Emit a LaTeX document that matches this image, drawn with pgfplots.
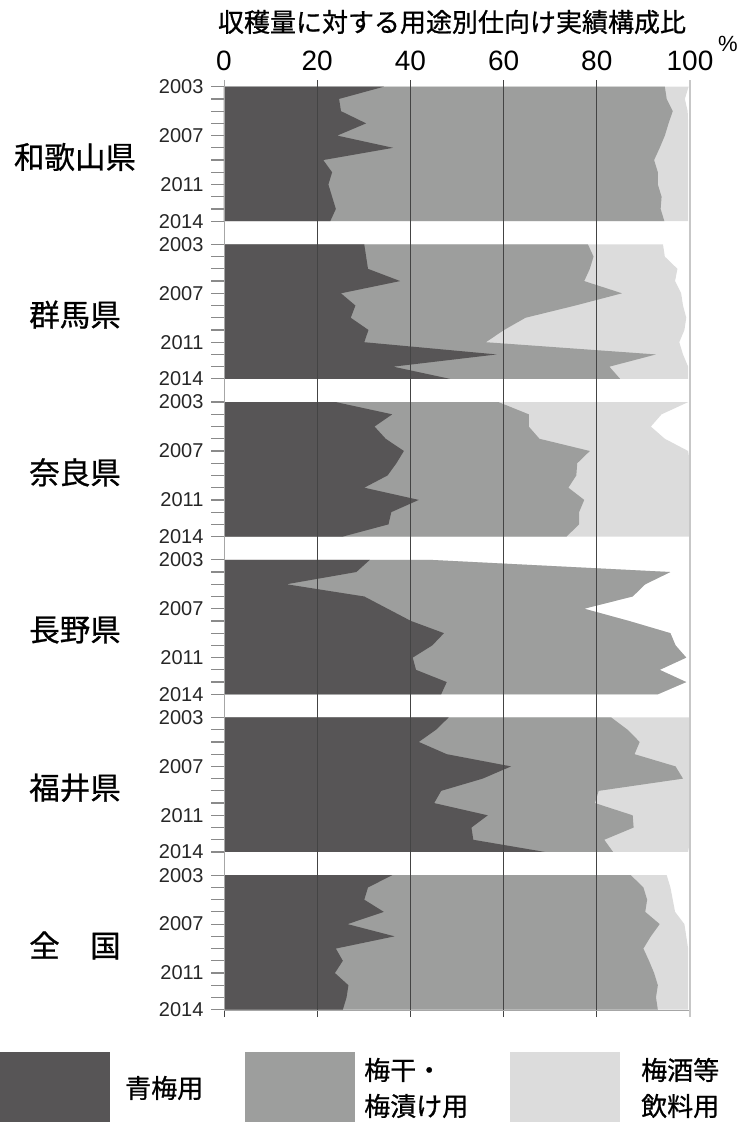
\documentclass[border=0pt]{standalone}
\usepackage{fontspec}
\setmainfont{Liberation Sans}
\newfontfamily\jp[FakeBold=0.8]{Noto Sans CJK JP}
\usepackage{pgfplots}
\usepackage{pgfplotstable}
\pgfplotsset{compat=1.18}
\definecolor{cdark}{HTML}{575556}
\definecolor{cmid}{HTML}{9D9E9D}
\definecolor{clight}{HTML}{DCDCDC}
\definecolor{cgrid}{HTML}{444444}
\definecolor{ctick}{HTML}{8A8A8A}

% columns: year, cumulative 青梅用 (d), + 梅干・梅漬け用 (m), + 梅酒等飲料用 (l)
\pgfplotstableread{
year d m l
2003 0 0 0
2003 34.3 94.6 99.7
2004 24.7 95.0 98.9
2005 25.1 96.3 99.5
2006 30.5 95.4 99.6
2007 24.3 94.6 99.6
2008 36.3 93.5 99.6
2009 21.3 92.3 99.6
2010 23.2 93.1 99.6
2011 22.4 93.1 99.6
2012 23.2 93.9 99.6
2013 24.0 93.7 99.6
2014 22.8 94.5 99.6
2014 0 0 0
}\wakayama
\pgfplotstableread{
year d m l
2003 0 0 0
2003 30.1 78.1 94.2
2004 30.5 79.3 94.6
2005 30.9 78.5 97.3
2006 37.8 77.3 96.8
2007 25.1 85.4 98.1
2008 28.2 75.4 98.5
2009 27.2 64.7 99.2
2010 31.0 60.1 98.8
2011 30.1 56.2 97.7
2012 58.5 92.7 98.5
2013 36.3 82.7 99.6
2014 48.5 85.0 99.6
2014 0 0 0
}\gunma
\pgfplotstableread{
year d m l
2003 0 0 0
2003 24.0 58.9 99.6
2004 36.1 65.4 93.9
2005 32.3 65.4 91.6
2006 34.7 67.7 94.6
2007 38.6 78.5 99.6
2008 37.0 75.8 100
2009 35.1 75.6 100
2010 30.1 73.9 100
2011 41.8 77.3 100
2012 35.9 76.2 100
2013 35.3 76.2 100
2014 25.5 73.5 100
2014 0 0 0
}\nara
\pgfplotstableread{
year d m l
2003 0 0 0
2003 31.3 44.0 44.0
2004 28.4 95.8 95.8
2005 13.4 90.4 90.4
2006 30.1 87.7 87.7
2007 35.1 77.3 77.3
2008 40.1 86.9 86.9
2009 47.2 95.8 95.8
2010 44.7 96.9 96.9
2011 40.5 99.2 99.2
2012 41.2 93.5 93.5
2013 47.8 99.2 99.2
2014 46.6 93.1 93.1
2014 0 0 0
}\nagano
\pgfplotstableread{
year d m l
2003 0 0 0
2003 48.2 83.1 100
2004 45.5 86.6 100
2005 41.8 89.2 100
2006 47.8 88.1 100
2007 61.6 96.9 100
2008 55.5 98.5 100
2009 46.6 80.4 100
2010 45.1 79.6 100
2011 56.6 87.7 100
2012 53.1 87.9 100
2013 53.5 81.6 100
2014 68.9 83.5 99.6
2014 0 0 0
}\fukui
\pgfplotstableread{
year d m l
2003 0 0 0
2003 36.1 87.3 95.0
2004 30.9 90.0 95.8
2005 30.1 90.8 96.3
2006 34.3 90.4 96.8
2007 26.5 93.5 98.8
2008 36.6 91.6 99.2
2009 24.0 90.0 99.6
2010 25.5 91.2 99.6
2011 23.8 92.3 99.6
2012 26.7 93.1 99.6
2013 26.3 92.7 99.6
2014 25.5 93.1 99.6
2014 0 0 0
}\zenkoku

\pgfplotsset{
  panel/.style={
    scale only axis, width=466pt, height=134.5pt,
    xmin=0, xmax=100, ymin=2003, ymax=2014, y dir=reverse,
    axis line style={draw=none},
    xtick=\empty,
    ytick={2003,2007,2011,2014},
    minor ytick={2004,2005,2006,2008,2009,2010,2012,2013},
    ytick pos=left,
    tick align=outside,
    major tick length=13pt, minor tick length=13pt,
    tick style={ctick, line width=1.2pt},
    yticklabel style={font=\fontsize{20}{20}\selectfont, text=black!85, xshift=-4pt,
      /pgf/number format/1000 sep={}, /pgf/number format/assume math mode=true},
    clip=false,
  },
}
\tikzset{
  plabel/.style={font=\jp\fontsize{30.5}{30.5}\selectfont, anchor=center, xshift=-149pt, yshift=-3pt},
}
\newcommand{\stackpanel}[1]{%
  \addplot[fill=clight, draw=none] table[x=l, y=year]{#1};
  \addplot[fill=cmid, draw=none] table[x=m, y=year]{#1};
  \addplot[fill=cdark, draw=none] table[x=d, y=year]{#1};
}

\begin{document}
\begin{tikzpicture}[x=1pt, y=1pt]
\useasboundingbox (0,0) rectangle (742,1122);

% title and % sign
\node[font=\jp\fontsize{26}{26}\selectfont, anchor=center] at (452,1100) {収穫量に対する用途別仕向け実績構成比};
\node[font=\fontsize{22}{22}\selectfont, anchor=center] at (728,1078) {\%};

% top percentage scale
\begin{axis}[at={(224pt,1035.3pt)}, anchor=north west, scale only axis,
  width=466pt, height=134.5pt, xmin=0, xmax=100, ymin=0, ymax=1,
  hide y axis, axis x line*=top, axis line style={draw=none},
  xtick={0,20,40,60,80,100}, major tick length=0pt,
  xticklabel style={font=\fontsize{28}{28}\selectfont, anchor=base, yshift=16pt,
     /pgf/number format/assume math mode=true}]
\end{axis}

\begin{axis}[panel, at={(224pt,1035.3pt)}, anchor=north west]
\stackpanel{\wakayama}
\node[plabel] at (rel axis cs:0,0.5) {和歌山県};
\end{axis}

\begin{axis}[panel, at={(224pt,877.6pt)}, anchor=north west]
\stackpanel{\gunma}
\node[plabel] at (rel axis cs:0,0.5) {群馬県};
\end{axis}

\begin{axis}[panel, at={(224pt,719.9pt)}, anchor=north west]
\stackpanel{\nara}
\node[plabel] at (rel axis cs:0,0.5) {奈良県};
\end{axis}

\begin{axis}[panel, at={(224pt,562.2pt)}, anchor=north west]
\stackpanel{\nagano}
\node[plabel] at (rel axis cs:0,0.5) {長野県};
\end{axis}

\begin{axis}[panel, at={(224pt,404.5pt)}, anchor=north west]
\stackpanel{\fukui}
\node[plabel] at (rel axis cs:0,0.5) {福井県};
\end{axis}

\begin{axis}[panel, at={(224pt,246.8pt)}, anchor=north west]
\stackpanel{\zenkoku}
\node[plabel] at (rel axis cs:0,0.5) {全　国};
\end{axis}

% frame: grid lines, left and bottom axis lines
\begin{axis}[at={(224pt,111.3pt)}, anchor=south west, scale only axis,
  width=466pt, height=930.7pt,
  xmin=0, xmax=100, ymin=0, ymax=1,
  axis x line*=bottom, axis y line*=left,
  axis line style={black!35, line width=1pt},
  xtick={0,20,40,60,80}, xticklabels={{},{},{},{},{}}, ytick=\empty,
  xmajorgrids, grid style={cgrid, line width=1pt},
  extra x ticks={100}, extra x tick labels={{}},
  extra x tick style={grid style={black!22, line width=1.6pt}, tick style={black!22, line width=1.6pt}},
  tick align=outside, major tick length=6.5pt,
  tick style={cgrid, line width=1pt},
]
\end{axis}

% legend
\fill[cdark] (0,0) rectangle (110,70);
\fill[cmid] (245,0) rectangle (355,70);
\fill[clight] (510,0) rectangle (620,70);
\node[font=\jp\fontsize{26}{36}\selectfont, anchor=west, inner sep=0] at (125,34) {青梅用};
\node[font=\jp\fontsize{26}{36}\selectfont, anchor=west, align=left, inner sep=0] at (364,34) {梅干・\\梅漬け用};
\node[font=\jp\fontsize{26}{36}\selectfont, anchor=west, align=left, inner sep=0] at (641,34) {梅酒等\\飲料用};
\end{tikzpicture}
\end{document}
